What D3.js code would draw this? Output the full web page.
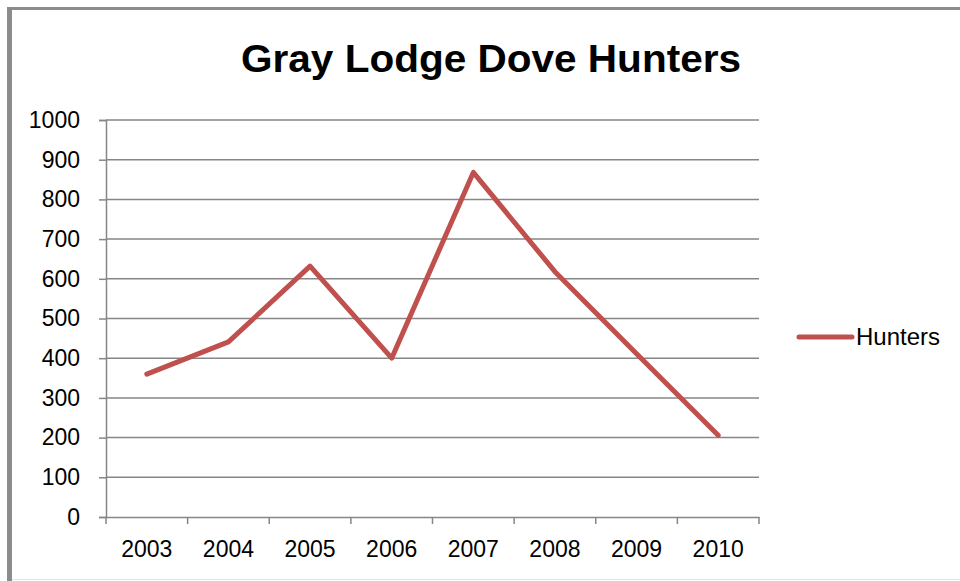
<!DOCTYPE html>
<html>
<head>
<meta charset="utf-8">
<script src="https://cdn.jsdelivr.net/npm/d3@7"></script>
<style>
  html, body { margin: 0; padding: 0; background: #fff; }
  svg { display: block; }
</style>
</head>
<body>
<svg id="chart" width="960" height="581"></svg>
<script>
const title = "Gray Lodge Dove Hunters";
const seriesName = "Hunters";
const years = ["2003", "2004", "2005", "2006", "2007", "2008", "2009", "2010"];
const hunters = [360, 441, 632, 400, 868, 618, 411, 206];
const yTicks = [0, 100, 200, 300, 400, 500, 600, 700, 800, 900, 1000];

const svg = d3.select("#chart");
const W = 960, H = 581;
const plot = { left: 106, right: 759, top: 120, bottom: 517 };
const gridColor = "#868686";
const lineColor = "#C0504D";
const font = "'Liberation Sans', Arial, sans-serif";

// Outer frame
svg.append("rect").attr("x", 0).attr("y", 0).attr("width", W).attr("height", H).attr("fill", "#fff");
svg.append("line").attr("x1", 9.5).attr("x2", 9.5).attr("y1", 7).attr("y2", H)
  .attr("stroke", "#8c8c8c").attr("stroke-width", 5);
svg.append("line").attr("x1", 7).attr("x2", W).attr("y1", 8.5).attr("y2", 8.5)
  .attr("stroke", "#8c8c8c").attr("stroke-width", 3);
svg.append("line").attr("x1", 12).attr("x2", W).attr("y1", 579.5).attr("y2", 579.5)
  .attr("stroke", "#e4e4e4").attr("stroke-width", 1);

const x = d3.scaleBand().domain(years).range([plot.left, plot.right]).paddingInner(0).paddingOuter(0);
const y = d3.scaleLinear().domain([0, 1000]).range([plot.bottom, plot.top]);

// Gridlines
svg.append("g").selectAll("line").data(yTicks.filter(d => d > 0)).join("line")
  .attr("x1", plot.left).attr("x2", plot.right)
  .attr("y1", d => y(d)).attr("y2", d => y(d))
  .attr("stroke", gridColor).attr("stroke-width", 1.5);

// Y axis
const yAxis = svg.append("g").attr("transform", `translate(${plot.left},0)`)
  .call(d3.axisLeft(y).tickValues(yTicks).tickFormat(d3.format("d")).tickSize(7).tickPadding(19));
yAxis.select(".domain").attr("stroke", gridColor).attr("stroke-width", 1.5);
yAxis.selectAll(".tick line").attr("stroke", gridColor).attr("stroke-width", 1.5);
yAxis.selectAll(".tick text").attr("font-family", font).attr("font-size", 23).attr("fill", "#000");

// X axis
const xAxis = svg.append("g").attr("transform", `translate(0,${plot.bottom})`)
  .call(d3.axisBottom(x).tickSize(0).tickPadding(24));
xAxis.select(".domain").attr("stroke", gridColor).attr("stroke-width", 1.5);
xAxis.selectAll(".tick text").attr("font-family", font).attr("font-size", 23).attr("fill", "#000");
// category boundary tick marks
const bounds = years.map(d => x(d)).concat([x(years[years.length - 1]) + x.bandwidth()]);
xAxis.append("g").selectAll("line").data(bounds).join("line")
  .attr("x1", d => d).attr("x2", d => d).attr("y1", 0).attr("y2", 7)
  .attr("stroke", gridColor).attr("stroke-width", 1.5);

// Line
const line = d3.line().x((d, i) => x(years[i]) + x.bandwidth() / 2).y(d => y(d));
svg.append("path").datum(hunters).attr("d", line)
  .attr("fill", "none").attr("stroke", lineColor).attr("stroke-width", 5)
  .attr("stroke-linejoin", "round").attr("stroke-linecap", "round");

// Title
svg.append("text").attr("x", 491).attr("y", 72).attr("text-anchor", "middle")
  .attr("font-family", font).attr("font-weight", "bold").attr("font-size", 39)
  .attr("textLength", 500).attr("lengthAdjust", "spacingAndGlyphs")
  .attr("fill", "#000").text(title);

// Legend
const legend = svg.append("g");
legend.append("line").attr("x1", 799).attr("x2", 852).attr("y1", 337).attr("y2", 337)
  .attr("stroke", lineColor).attr("stroke-width", 5).attr("stroke-linecap", "round");
legend.append("text").attr("x", 856).attr("y", 345)
  .attr("font-family", font).attr("font-size", 24).attr("fill", "#000").text(seriesName);
</script>
</body>
</html>
